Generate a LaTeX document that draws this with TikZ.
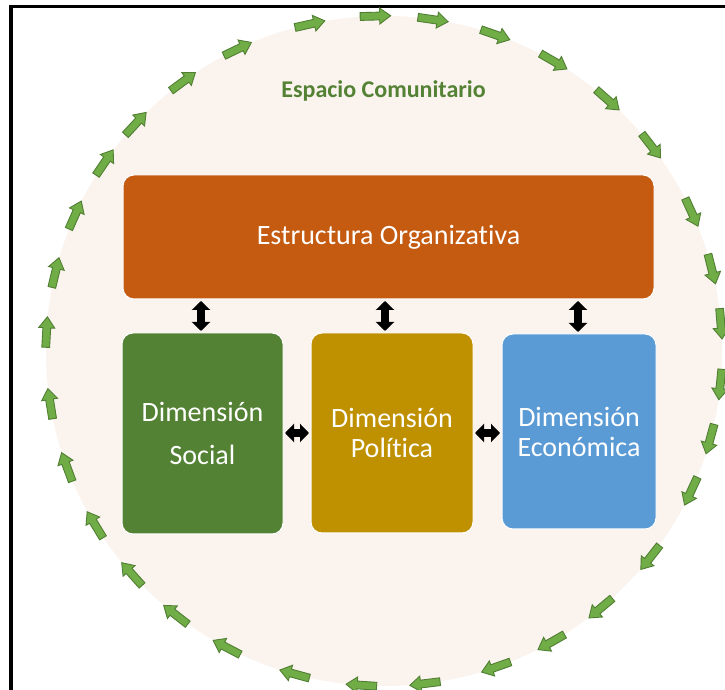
\documentclass[tikz,border=0pt]{standalone}
\usepackage{fontspec}
\setmainfont{Carlito}[Ligatures=NoCommon]
\usetikzlibrary{arrows.meta,calc}
\definecolor{ringfill}{HTML}{FBF3EE}
\definecolor{orangebox}{HTML}{C55A11}
\definecolor{greenbox}{HTML}{548235}
\definecolor{goldbox}{HTML}{BF9000}
\definecolor{bluebox}{HTML}{5B9BD5}
\definecolor{arrowfill}{HTML}{70AD47}
\definecolor{arrowline}{HTML}{507E32}
\definecolor{titlegreen}{HTML}{548235}
\begin{document}
\begin{tikzpicture}[x=1pt,y=1pt,
  box/.style={draw=white, line width=1pt, rounded corners=11pt, text=white, align=center, inner sep=0pt},
  dbl/.style={line width=8pt, {Triangle[length=9pt 0 0,width=18pt 0 0]}-{Triangle[length=9pt 0 0,width=18pt 0 0]}, shorten <=1.5pt, shorten >=1.5pt},
  ringarrow/.style={fill=arrowfill, draw=arrowline, line width=0.9pt, line join=miter}
]
\useasboundingbox (0,0) rectangle (725,690);
\fill[white] (0,0) rectangle (725,690);
% community space
\fill[ringfill] (384,339) ellipse [x radius=338, y radius=335];
% frame
\draw[line width=3.2pt, line join=miter] (11,0) -- (11,683.5) -- (725,683.5);
% ring of arrows (clockwise)
\foreach \a in {176.8,166.5,156.1,145.8,137.3,126.5,115.7,102.7,91.5,81.7,70.8,59.9,48.6,37.8,24.5,14.2,4.7,-5.7,-15.2,-24.7,-38,-50.1,-60.3,-70.6,-83,-93.8,-105.3,-117.7,-128,-138.2,-148.7,-159.7,-170.9} {
  \begin{scope}[shift={({384+338*cos(\a)},{339+335*sin(\a)})}, rotate=\a-90]
    \draw[ringarrow] (-15,-3.9) -- (4.5,-3.9) -- (4.5,-8) -- (15.5,0) -- (4.5,8) -- (4.5,3.9) -- (-15,3.9) -- cycle;
  \end{scope}
}
% title
\node[font=\bfseries\fontsize{24}{29}\selectfont, text=titlegreen] (title) at (383.5,599) {Espacio Comunitario};
% boxes
\node[box, fill=orangebox, minimum width=531pt, minimum height=124pt, font=\fontsize{28}{34}\selectfont] (org) at (388.5,453) {Estructura Organizativa};
\node[box, fill=greenbox, minimum width=161pt, minimum height=201pt, font=\fontsize{28}{43}\selectfont] (soc) at (202.5,256.5) {Dimensión\\Social};
\node[box, fill=goldbox, minimum width=162pt, minimum height=200pt, font=\fontsize{28}{30}\selectfont] (pol) at (392,257) {Dimensión\\Política};
\node[box, fill=bluebox, minimum width=154pt, minimum height=195pt, font=\fontsize{28}{30}\selectfont] (eco) at (579,258.5) {Dimensión\\Económica};
% connectors
\coordinate (a1) at (201,0);
\coordinate (a2) at (385,0);
\coordinate (a3) at (578,0);
\coordinate (hy) at (0,257);
\draw[dbl] (org.south -| a1) -- (soc.north -| a1);
\draw[dbl] (org.south -| a2) -- (pol.north -| a2);
\draw[dbl] (org.south -| a3) -- (eco.north -| a3);
\draw[dbl] (soc.east |- hy) -- (pol.west |- hy);
\draw[dbl] (pol.east |- hy) -- (eco.west |- hy);
\end{tikzpicture}
\end{document}
